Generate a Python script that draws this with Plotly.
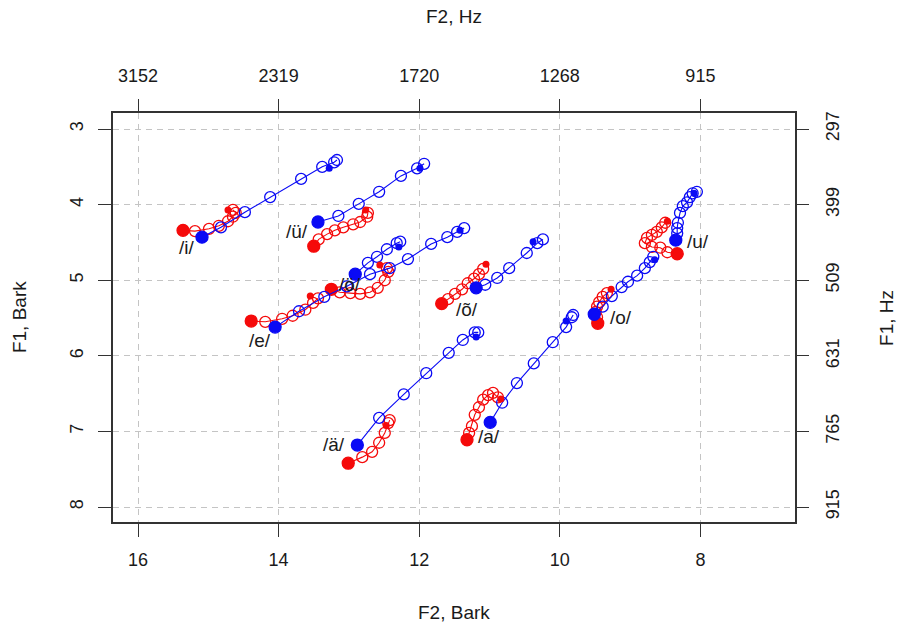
import plotly.graph_objects as go

# ---------------- data (F2 Bark, F1 Bark) ----------------
vowels = ["/i/", "/ü/", "/e/", "/ö/", "/õ/", "/ä/", "/a/", "/o/", "/u/"]

# blue trajectories
i_blue_f2 = [15.09, 14.82, 14.48, 14.12, 13.68, 13.38, 13.21, 13.17]
i_blue_f1 = [4.43, 4.30, 4.10, 3.90, 3.66, 3.50, 3.44, 3.41]
u_um_blue_f2 = [13.44, 13.15, 12.86, 12.57, 12.26, 12.03, 11.93]
u_um_blue_f1 = [4.23, 4.15, 3.99, 3.83, 3.62, 3.52, 3.46]
e_blue_f2 = [14.05, 13.71, 13.35, 13.03, 12.70, 12.42, 12.16, 11.83, 11.60, 11.46, 11.36]
e_blue_f1 = [5.62, 5.41, 5.22, 5.08, 4.92, 4.84, 4.72, 4.52, 4.43, 4.36, 4.31]
o_um_blue_f2 = [12.91, 12.73, 12.60, 12.46, 12.32, 12.27]
o_um_blue_f1 = [4.92, 4.77, 4.69, 4.59, 4.51, 4.49]
o_til_blue_f2 = [11.19, 11.06, 10.89, 10.72, 10.47, 10.32, 10.24]
o_til_blue_f1 = [5.10, 5.06, 4.97, 4.84, 4.64, 4.51, 4.46]
a_um_blue_f2 = [12.88, 12.57, 12.22, 11.90, 11.58, 11.38, 11.21, 11.16]
a_um_blue_f1 = [7.18, 6.82, 6.51, 6.23, 5.96, 5.79, 5.69, 5.69]
a_blue_f2 = [10.99, 10.82, 10.61, 10.37, 10.10, 9.91, 9.83, 9.81]
a_blue_f1 = [6.88, 6.62, 6.36, 6.10, 5.82, 5.62, 5.49, 5.46]
o_blue_f2 = [9.51, 9.39, 9.26, 9.12, 9.03, 8.90, 8.79, 8.72, 8.67]
o_blue_f1 = [5.45, 5.35, 5.21, 5.09, 5.02, 4.94, 4.84, 4.76, 4.69]
u_blue_f2 = [8.35, 8.33, 8.33, 8.32, 8.29, 8.25, 8.19, 8.15, 8.11, 8.05]
u_blue_f1 = [4.47, 4.38, 4.31, 4.24, 4.11, 4.02, 3.97, 3.90, 3.85, 3.83]

# red trajectories
i_red_f2 = [15.36, 15.19, 14.99, 14.85, 14.72, 14.65, 14.61, 14.65]
i_red_f1 = [4.34, 4.35, 4.32, 4.28, 4.22, 4.16, 4.11, 4.07]
u_um_red_f2 = [13.50, 13.43, 13.31, 13.20, 13.08, 12.94, 12.84, 12.74, 12.73]
u_um_red_f1 = [4.55, 4.46, 4.39, 4.34, 4.30, 4.26, 4.23, 4.16, 4.11]
e_red_f2 = [14.39, 14.19, 13.95, 13.80, 13.62, 13.51, 13.44]
e_red_f1 = [5.54, 5.55, 5.51, 5.47, 5.39, 5.30, 5.24]
o_um_red_f2 = [13.25, 13.13, 12.98, 12.84, 12.70, 12.59, 12.49, 12.44, 12.46]
o_um_red_f1 = [5.12, 5.16, 5.17, 5.18, 5.16, 5.10, 5.00, 4.89, 4.84]
o_til_red_f2 = [11.68, 11.59, 11.49, 11.39, 11.31, 11.22, 11.15, 11.09]
o_til_red_f1 = [5.31, 5.25, 5.18, 5.12, 5.04, 4.98, 4.92, 4.85]
a_um_red_f2 = [13.01, 12.81, 12.67, 12.57, 12.49, 12.44, 12.42]
a_um_red_f1 = [7.42, 7.34, 7.27, 7.15, 7.02, 6.89, 6.85]
a_red_f2 = [11.32, 11.29, 11.25, 11.21, 11.15, 11.09, 11.02, 10.95, 10.88]
a_red_f1 = [7.11, 7.02, 6.93, 6.78, 6.68, 6.58, 6.52, 6.49, 6.55]
o_red_f2 = [9.46, 9.47, 9.49, 9.47, 9.44, 9.39, 9.33]
o_red_f1 = [5.57, 5.49, 5.42, 5.35, 5.29, 5.22, 5.17]
u_red_f2 = [8.33, 8.47, 8.57, 8.69, 8.79, 8.76, 8.69, 8.62, 8.55, 8.50]
u_red_f1 = [4.65, 4.63, 4.57, 4.56, 4.51, 4.44, 4.40, 4.36, 4.30, 4.24]

# small filled target points (one per vowel, order as `vowels`)
target_blue_f2 = [13.28, 11.99, 11.42, 12.29, 10.38, 11.19, 9.91, 8.65, 8.09]
target_blue_f1 = [3.52, 3.52, 4.34, 4.56, 4.49, 5.75, 5.54, 4.73, 3.85]
target_red_f2 = [14.72, 12.76, 13.55, 12.56, 11.05, 12.47, 10.84, 9.27, 8.47]
target_red_f1 = [4.07, 4.07, 5.21, 4.80, 4.79, 6.92, 6.57, 5.12, 4.22]

# vowel label positions
label_f2 = [15.30, 13.74, 14.26, 12.98, 11.32, 13.21, 11.01, 9.13, 8.03]
label_f1 = [4.57, 4.36, 5.80, 5.06, 5.39, 7.17, 7.07, 5.49, 4.49]

# axis ticks
f2_bark_ticks = [16, 14, 12, 10, 8]
f2_hz_labels = ["3152", "2319", "1720", "1268", "915"]
f1_bark_ticks = [3, 4, 5, 6, 7, 8]
f1_hz_labels = ["297", "399", "509", "631", "765", "915"]

blue_tracks = [(i_blue_f2, i_blue_f1), (u_um_blue_f2, u_um_blue_f1), (e_blue_f2, e_blue_f1),
               (o_um_blue_f2, o_um_blue_f1), (o_til_blue_f2, o_til_blue_f1),
               (a_um_blue_f2, a_um_blue_f1), (a_blue_f2, a_blue_f1),
               (o_blue_f2, o_blue_f1), (u_blue_f2, u_blue_f1)]
red_tracks = [(i_red_f2, i_red_f1), (u_um_red_f2, u_um_red_f1), (e_red_f2, e_red_f1),
              (o_um_red_f2, o_um_red_f1), (o_til_red_f2, o_til_red_f1),
              (a_um_red_f2, a_um_red_f1), (a_red_f2, a_red_f1),
              (o_red_f2, o_red_f1), (u_red_f2, u_red_f1)]

BLUE = "#0a0af5"
RED = "#f50a0a"
FONT = "Liberation Sans, Arial, sans-serif"
TXT = "#1a1a1a"

fig = go.Figure()


def add_track(xs, ys, color):
    n = len(xs)
    fig.add_trace(go.Scatter(
        x=xs, y=ys, mode="lines+markers",
        line=dict(color=color, width=1.1),
        marker=dict(symbol=["circle"] + ["circle-open"] * (n - 1),
                    size=[12] + [11] * (n - 1), color=color, opacity=1,
                    line=dict(color=color, width=1.3)),
        showlegend=False, hoverinfo="skip"))


for xs, ys in red_tracks:
    add_track(xs, ys, RED)
for xs, ys in blue_tracks:
    add_track(xs, ys, BLUE)

fig.add_trace(go.Scatter(x=target_red_f2, y=target_red_f1, mode="markers",
                         marker=dict(symbol="circle", size=7, color=RED, opacity=1),
                         showlegend=False, hoverinfo="skip"))
fig.add_trace(go.Scatter(x=target_blue_f2, y=target_blue_f1, mode="markers",
                         marker=dict(symbol="circle", size=7, color=BLUE, opacity=1),
                         showlegend=False, hoverinfo="skip"))
# anchor trace for the secondary (Hz) axes
fig.add_trace(go.Scatter(x=[f2_bark_ticks[0]], y=[f1_bark_ticks[0]], xaxis="x2", yaxis="y2",
                         mode="markers", marker=dict(opacity=0), showlegend=False,
                         hoverinfo="skip"))

for v, lx, ly in zip(vowels, label_f2, label_f1):
    fig.add_annotation(x=lx, y=ly, xref="x", yref="y", text=v, showarrow=False,
                       font=dict(family=FONT, size=19, color=TXT))

xr = [16.356, 6.654]
yr = [8.198, 2.788]
axis_common = dict(ticks="outside", ticklen=13, tickwidth=1.2, tickcolor="#333",
                   tickfont=dict(family=FONT, size=18, color=TXT), zeroline=False)

fig.update_layout(
    width=902, height=632,
    margin=dict(l=113, r=107, t=113, b=110),
    paper_bgcolor="white", plot_bgcolor="white",
    xaxis=dict(range=xr, tickvals=f2_bark_ticks, ticktext=[str(t) for t in f2_bark_ticks],
               showgrid=True, gridcolor="#c4c4c4", gridwidth=1, griddash="6px,5px",
               showline=True, linecolor="#333", linewidth=1.5, mirror=True,
               ticklabelstandoff=8, **axis_common),
    yaxis=dict(range=yr, tickvals=f1_bark_ticks, ticktext=[str(t) for t in f1_bark_ticks],
               showgrid=True, gridcolor="#c4c4c4", gridwidth=1, griddash="6px,5px",
               showline=True, linecolor="#333", linewidth=1.5, mirror=True,
               tickangle=-90, ticklabelstandoff=8, **axis_common),
    xaxis2=dict(range=xr, overlaying="x", side="top", tickvals=f2_bark_ticks,
                ticktext=f2_hz_labels, showgrid=False, showline=False,
                ticklabelstandoff=10, **axis_common),
    yaxis2=dict(range=yr, overlaying="y", side="right", tickvals=f1_bark_ticks,
                ticktext=f1_hz_labels, showgrid=False, showline=False,
                tickangle=-90, ticklabelstandoff=8, **axis_common),
)

titles = [("F2, Hz", 0.5, 1.235, 0), ("F2, Bark", 0.5, -0.222, 0),
          ("F1, Bark", -0.137, 0.5, -90), ("F1, Hz", 1.134, 0.5, -90)]
for t, px, py, ang in titles:
    fig.add_annotation(x=px, y=py, xref="paper", yref="paper", text=t, showarrow=False,
                       xanchor="center", yanchor="middle",
                       textangle=ang, font=dict(family=FONT, size=19, color=TXT))

fig.write_html("out.html")
